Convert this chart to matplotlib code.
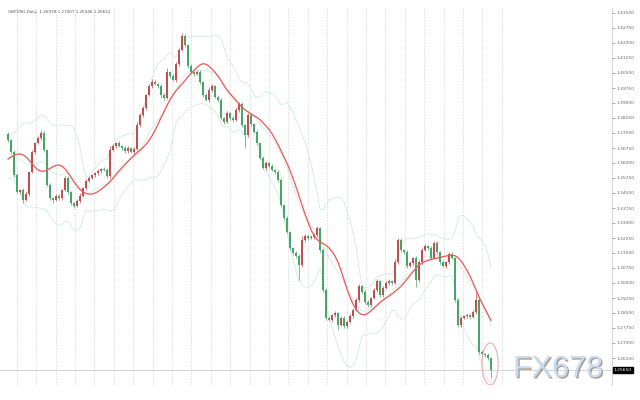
import numpy as np
import pandas as pd
import matplotlib
matplotlib.use('Agg')
import matplotlib.pyplot as plt
import matplotlib.patheffects as pe
from matplotlib.patches import Ellipse

# cabecera del grafico
symbol_text = "GBPUSD,Daily  1.26978 1.27007 1.26346 1.26652"
watermark = "FX678"

# cierres previos (solo para los indicadores, no se dibujan)
history = [1.3515, 1.3540, 1.3490, 1.3525, 1.3565, 1.3575, 1.3555, 1.3615, 1.3590, 1.3565,
           1.3540, 1.3575, 1.3615, 1.3640, 1.3605, 1.3625, 1.3665, 1.3675, 1.3690, 1.3725]

first_open = 1.3745

closes = [1.3715, 1.3655, 1.3540, 1.3455, 1.3465, 1.3415, 1.3445, 1.3555, 1.3655, 1.3700,
          1.3725, 1.3750, 1.3665, 1.3490, 1.3425, 1.3415, 1.3435, 1.3425, 1.3465, 1.3525,
          1.3455, 1.3400, 1.3385, 1.3410, 1.3435, 1.3475, 1.3510, 1.3525, 1.3540, 1.3550,
          1.3560, 1.3570, 1.3565, 1.3535, 1.3665, 1.3685, 1.3700, 1.3685, 1.3675, 1.3660,
          1.3675, 1.3655, 1.3670, 1.3790, 1.3840, 1.3875, 1.3940, 1.3985, 1.4005, 1.3995,
          1.3985, 1.3940, 1.3925, 1.4055, 1.4035, 1.4015, 1.4095, 1.4165, 1.4235, 1.4190,
          1.4085, 1.4055, 1.4045, 1.4055, 1.4005, 1.3940, 1.3915, 1.3965, 1.3985, 1.3930,
          1.3915, 1.3825, 1.3805, 1.3850, 1.3825, 1.3815, 1.3865, 1.3895, 1.3790, 1.3740,
          1.3840, 1.3795, 1.3755, 1.3700, 1.3625, 1.3575, 1.3600, 1.3585, 1.3565, 1.3555,
          1.3515, 1.3390, 1.3325, 1.3255, 1.3175, 1.3150, 1.3135, 1.3090, 1.3215, 1.3235,
          1.3225, 1.3230, 1.3240, 1.3275, 1.3165, 1.2965, 1.2825, 1.2815, 1.2840, 1.2850,
          1.2790, 1.2825, 1.2785, 1.2805, 1.2835, 1.2865, 1.2915, 1.2985, 1.2955, 1.2905,
          1.2890, 1.2925, 1.2965, 1.3010, 1.2940, 1.2975, 1.3000, 1.3010, 1.3000, 1.3105,
          1.3215, 1.3165, 1.3155, 1.3085, 1.3100, 1.3125, 1.3015, 1.3105, 1.3165, 1.3185,
          1.3175, 1.3125, 1.3200, 1.3155, 1.3105, 1.3085, 1.3105, 1.3145, 1.3125, 1.2915,
          1.2790, 1.2825, 1.2835, 1.2840, 1.2830, 1.2855, 1.2915, 1.2655, 1.2645, 1.2640,
          1.2625, 1.2565]

# mechas en pips
up_wick = [10, 6, 12, 8, 5, 9, 14, 7, 10, 6, 12, 15, 8, 5, 10, 7, 9, 12, 6, 8,
           11, 7, 5, 9, 13, 6, 8, 10, 5, 7, 9, 6, 12, 8, 20, 10, 7, 9, 6, 11,
           8, 5, 10, 14, 9, 12, 7, 10, 15, 8, 6, 9, 12, 18, 7, 10, 8, 12, 14, 9,
           7, 10, 6, 12, 8, 5, 9, 14, 10, 6, 8, 11, 7, 12, 6, 9, 15, 10, 8, 6,
           12, 9, 7, 10, 6, 8, 12, 7, 9, 5, 10, 8, 6, 9, 7, 5, 8, 10, 18, 9,
           7, 10, 8, 12, 6, 9, 8, 10, 7, 12, 6, 9, 11, 7, 8, 10, 12, 9, 6, 8,
           10, 7, 12, 9, 6, 10, 8, 11, 7, 14, 12, 9, 7, 10, 8, 6, 9, 12, 8, 10,
           7, 11, 12, 8, 6, 9, 7, 10, 12, 6, 8, 10, 7, 9, 6, 12, 40, 8, 10, 6,
           9, 7]
dn_wick = [8, 10, 12, 6, 9, 14, 7, 10, 6, 8, 5, 9, 12, 7, 10, 15, 6, 8, 10, 7,
           9, 12, 10, 6, 8, 5, 10, 7, 6, 9, 8, 10, 6, 12, 8, 7, 9, 6, 10, 8,
           12, 7, 9, 6, 10, 8, 12, 6, 9, 7, 10, 14, 8, 6, 9, 7, 10, 8, 6, 9,
           10, 8, 12, 6, 9, 10, 7, 8, 11, 6, 9, 12, 10, 7, 8, 12, 6, 9, 10, 65,
           8, 10, 6, 9, 12, 7, 10, 8, 6, 9, 12, 8, 10, 7, 9, 8, 10, 75, 8, 10,
           9, 6, 10, 8, 12, 10, 9, 7, 10, 8, 25, 7, 9, 10, 6, 8, 7, 10, 9, 12,
           8, 10, 6, 9, 12, 8, 7, 10, 9, 6, 10, 8, 12, 9, 7, 10, 35, 8, 10, 6,
           9, 12, 7, 10, 8, 6, 10, 9, 7, 12, 10, 8, 6, 9, 10, 7, 8, 10, 9, 12,
           8, 40]

last_price = 1.2565
y_ticks = [1.2550, 1.2625, 1.2700, 1.2775, 1.2850, 1.2925, 1.3000, 1.3075, 1.3150,
           1.3225, 1.3300, 1.3375, 1.3450, 1.3525, 1.3600, 1.3675, 1.3750, 1.3825,
           1.3900, 1.3975, 1.4050, 1.4125, 1.4200, 1.4275, 1.4350]

ma_period = 8      # media triangular (media de media)
bb_period = 14

# ---- calculos ----
n = len(closes)
c = np.array(closes)
o = np.array([first_open] + closes[:-1])
hi = np.maximum(o, c) + np.array(up_wick) * 0.0001
lo = np.minimum(o, c) - np.array(dn_wick) * 0.0001
x = np.arange(n)

serie = pd.Series(history + closes)
ma = serie.rolling(ma_period).mean().rolling(ma_period).mean().values[-n:]
mid = serie.rolling(bb_period).mean()
sd = serie.rolling(bb_period).std(ddof=0)
bb_up = (mid + 2 * sd).values[-n:]
bb_lo = (mid - 2 * sd).values[-n:]
bb_mid = mid.values[-n:]

# ---- figura ----
fig = plt.figure(figsize=(6.4, 4), dpi=100)
ax = fig.add_axes([0, 15 / 400, 612 / 640, 377 / 400])
ax.set_xlim(-8 / 3, 604 / 3)
ax.set_ylim(1.2490, 1.4375)

# rejilla vertical punteada
for k in range(26):
    ax.axvline(2.9 + 6.467 * k, color='#cfcfcf', lw=0.5, ls=(0, (2, 2)), zorder=0)

ax.axhline(last_price, color='#cfcfcf', lw=0.6, zorder=0)

# bandas de bollinger
for banda in (bb_up, bb_mid, bb_lo):
    ax.plot(x, banda, color='#cfeae4', lw=0.6, zorder=1)

# velas
col_up = '#c24f4f'
col_dn = '#48a56a'
colores = np.where(c >= o, col_up, col_dn)
ax.vlines(x, lo, hi, colors=colores, lw=0.5, zorder=2)
alto = np.maximum(np.abs(c - o), 0.0002)
ax.bar(x, alto, bottom=np.minimum(o, c), width=0.6, color=colores, lw=0, zorder=3)

# media movil
ax.plot(x, ma, color='#f25555', lw=0.9, zorder=4)

# circulo rojo al final
ax.add_patch(Ellipse((160.7, 1.2595), 5.4, 0.021, fill=False, ec='#f3a0a0', lw=0.7, zorder=5))

# eje de precios a la derecha
ax.yaxis.tick_right()
ax.set_yticks(y_ticks)
ax.set_yticklabels([f'{v:.5f}' for v in y_ticks])
ax.tick_params(axis='y', labelsize=3.2, length=2, width=0.4, colors='#666666', pad=1)
ax.set_xticks([])
for lado in ('top', 'left', 'bottom'):
    ax.spines[lado].set_visible(False)
ax.spines['right'].set_color('#cccccc')
ax.spines['right'].set_linewidth(0.6)

ax.text(1.003, last_price, f'{last_price:.5f}', transform=ax.get_yaxis_transform(),
        fontsize=3.2, color='white', va='center', ha='left',
        bbox=dict(boxstyle='square,pad=0.25', fc='black', ec='black'))

fig.text(8 / 640, 1 - 12 / 400, symbol_text, fontsize=3, color='#555555', va='center')

fig.text(513 / 640, 1 - 377 / 400, watermark, fontsize=22, family='Liberation Sans',
         color='#c8dcf2', ha='left', va='baseline',
         path_effects=[pe.withSimplePatchShadow(offset=(1.0, -1.0), shadow_rgbFace='#8a7560', alpha=0.7)])

fig.savefig('out.png', dpi=100)
